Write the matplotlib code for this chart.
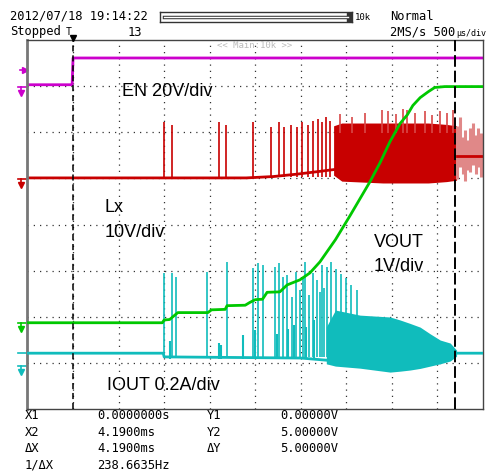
import numpy as np
import matplotlib.pyplot as plt

# time axis in ms, t=0 at cursor X1 (500us/div, 10 div)
t_min, t_max = -0.5, 4.5
x1_t, x2_t = 0.0, 4.19

# channel ground position (div from bottom) and scale (per div)
en_pos, en_scale = 6.98, 20.0
lx_pos, lx_scale = 4.99, 10.0
vout_pos, vout_scale = 1.87, 1.0
iout_pos, iout_scale = 0.93, 0.2

# EN (V)
en_t = [-0.5, -0.01, 0.0, 4.5]
en_v = [1.0, 1.0, 12.6, 12.6]

# Lx (V): baseline, isolated spikes, switching band, tail after X2
lx_base_t = [-0.5, 1.90, 2.20, 2.45, 2.70, 2.86]
lx_base_v = [0.2, 0.2, 0.5, 1.0, 1.6, 2.0]
lx_spike_t = [1.00, 1.09, 1.60, 1.68, 1.975, 2.17, 2.26, 2.32, 2.39, 2.46,
              2.51, 2.58, 2.63, 2.69, 2.73, 2.78, 2.82]
lx_spike_v = [12.3, 11.7, 12.3, 11.7, 12.4, 11.3, 12.3, 11.3, 11.7, 11.3,
              12.3, 11.7, 12.6, 13.0, 12.3, 13.5, 12.6]
lx_band_t = [2.86, 2.95, 3.40, 3.90, 4.10, 4.21]
lx_band_hi = [11.5, 12.1, 12.1, 12.1, 11.8, 11.5]
lx_band_lo = [0.8, -0.5, -0.9, -0.9, -0.6, -0.3]
lx_peak_t = [2.93, 3.06, 3.21, 3.39, 3.46, 3.55, 3.62, 3.67, 3.75, 3.86,
             3.94, 4.03, 4.11, 4.17]
lx_peak_v = [14.0, 13.5, 14.2, 15.0, 14.8, 14.0, 15.2, 15.0, 14.3, 14.6,
             13.8, 14.8, 14.2, 15.0]
lx_tail_t = [4.22, 4.25, 4.28, 4.30, 4.33, 4.36, 4.39, 4.42, 4.45, 4.48]
lx_tail_hi = [11.5, 13.5, 9.0, 10.5, 8.5, 11.0, 12.0, 9.5, 11.0, 10.0]
lx_tail_lo = [0.0, 2.5, 1.0, -0.5, 2.0, 1.5, 3.0, 1.0, 2.5, 0.5]

# VOUT (V)
vout_t = [-0.5, 0.98, 1.00, 1.06, 1.15, 1.48, 1.52, 1.67, 1.69, 1.89, 1.94,
          2.00, 2.08, 2.13, 2.27, 2.35, 2.49, 2.60, 2.71, 2.88, 3.04, 3.26,
          3.37, 3.48, 3.59, 3.67, 3.73, 3.81, 3.90, 3.97, 4.08, 4.50]
vout_v = [0.0, 0.0, 0.06, 0.07, 0.22, 0.22, 0.28, 0.29, 0.37, 0.38, 0.44,
          0.50, 0.51, 0.66, 0.67, 0.82, 0.93, 1.08, 1.32, 1.80, 2.32, 3.06,
          3.47, 3.93, 4.32, 4.51, 4.71, 4.88, 5.01, 5.10, 5.12, 5.12]

# IOUT (A)
iout_base_t = [-0.5, 0.99, 1.00, 2.50, 2.80, 4.21, 4.50]
iout_base_v = [0.056, 0.056, 0.040, 0.035, 0.025, 0.056, 0.056]
iout_spike_t = [0.998, 1.086, 1.130, 1.470, 1.690, 1.975, 2.030, 2.085, 2.217,
                2.261, 2.305, 2.349, 2.40, 2.448, 2.49, 2.525, 2.547, 2.59,
                2.634, 2.678, 2.71, 2.733, 2.76, 2.788, 2.832, 2.887, 2.942,
                2.997, 3.05, 3.12]
iout_spike_v = [0.403, 0.403, 0.386, 0.408, 0.451, 0.425, 0.447, 0.438, 0.430,
                0.447, 0.386, 0.395, 0.300, 0.408, 0.330, 0.386, 0.451, 0.310,
                0.403, 0.373, 0.320, 0.440, 0.340, 0.430, 0.450, 0.420, 0.400,
                0.380, 0.350, 0.330]
iout_bump_t = [1.064, 1.60, 1.62, 1.866, 1.997, 2.24, 2.36, 2.43, 2.56, 2.65]
iout_bump_v = [0.11, 0.10, 0.09, 0.134, 0.156, 0.14, 0.16, 0.18, 0.17, 0.20]
iout_band_t = [2.78, 2.88, 3.15, 3.48, 3.59, 3.70, 3.81, 3.92, 4.03, 4.14, 4.21]
iout_band_hi = [0.17, 0.243, 0.221, 0.213, 0.200, 0.185, 0.169, 0.140, 0.113, 0.100, 0.069]
iout_band_lo = [0.010, 0.000, -0.009, -0.026, -0.022, -0.017, -0.010, 0.000, 0.010, 0.022, 0.043]

magenta = '#cc00cc'
red = '#c80000'
green = '#00c800'
cyan = '#10bcbc'


def to_div(v, pos, scale):
    return pos + np.asarray(v) / scale


W, H = 489, 473
fig = plt.figure(figsize=(W / 100, H / 100), dpi=100)
ax = fig.add_axes([27.5 / W, 64 / H, 455.5 / W, 369 / H])
ax.set_xlim(t_min, t_max)
ax.set_ylim(0, 8)
ax.set_xticks([])
ax.set_yticks([])
for s in ax.spines.values():
    s.set_color('#444444')
    s.set_linewidth(1.0)
ax.spines['left'].set_color('#777777')
ax.spines['left'].set_linewidth(2.0)

# dotted graticule
for k in range(1, 10):
    ax.axvline(t_min + 0.5 * k, color='#333333', lw=0.9, ls=(0, (1, 4)), zorder=0)
for k in range(1, 8):
    ax.axhline(k, color='#333333', lw=0.9, ls=(0, (1, 4)), zorder=0)

# EN
ax.plot(en_t, to_div(en_v, en_pos, en_scale), color=magenta, lw=2, zorder=2)

# Lx
ax.plot(lx_base_t, to_div(lx_base_v, lx_pos, lx_scale), color=red, lw=2, zorder=2)
ax.vlines(lx_spike_t, lx_pos + 0.03, to_div(lx_spike_v, lx_pos, lx_scale),
          color=red, lw=1.2, zorder=2)
ax.fill_between(lx_band_t, to_div(lx_band_lo, lx_pos, lx_scale),
                to_div(lx_band_hi, lx_pos, lx_scale), color=red, lw=0, zorder=2)
ax.vlines(lx_peak_t, lx_pos + 1.0, to_div(lx_peak_v, lx_pos, lx_scale),
          color='#d84848', lw=1.2, zorder=2)
ax.vlines(lx_tail_t, to_div(lx_tail_lo, lx_pos, lx_scale),
          to_div(lx_tail_hi, lx_pos, lx_scale), color='#e08888', lw=2.2, zorder=2)
ax.plot([4.21, 4.5], to_div([5.0, 5.0], lx_pos, lx_scale), color=red, lw=2, zorder=2)

# IOUT
ax.plot(iout_base_t, to_div(iout_base_v, iout_pos, iout_scale), color=cyan, lw=2, zorder=3)
ax.vlines(iout_spike_t, iout_pos + 0.2, to_div(iout_spike_v, iout_pos, iout_scale),
          color=cyan, lw=1.2, zorder=3)
ax.vlines(iout_bump_t, iout_pos + 0.15, to_div(iout_bump_v, iout_pos, iout_scale),
          color=cyan, lw=1.5, zorder=3)
ax.fill_between(iout_band_t, to_div(iout_band_lo, iout_pos, iout_scale),
                to_div(iout_band_hi, iout_pos, iout_scale), color=cyan, lw=0, zorder=3)

# VOUT
ax.plot(vout_t, to_div(vout_v, vout_pos, vout_scale), color=green, lw=2, zorder=4)

# cursors
ax.axvline(x1_t, color='black', lw=1.1, ls=(0, (4, 2.5)), zorder=5)
ax.axvline(x2_t, color='black', lw=1.4, ls=(0, (6, 2)), zorder=5)
ax.plot([x1_t], [8.05], marker='v', color='black', ms=5, clip_on=False, zorder=6)

# channel markers left of the screen
mk_t0, mk_t1, mk_tc = -0.60, -0.515, -0.57
for pos, col in [(en_pos, magenta), (lx_pos, red), (vout_pos, green), (iout_pos, cyan)]:
    ax.plot([mk_t0, mk_t1], [pos, pos], color=col, lw=1.2, clip_on=False)
    ax.plot([mk_tc, mk_tc], [pos, pos - 0.08], color=col, lw=1.2, clip_on=False)
    ax.plot([mk_tc], [pos - 0.13], marker='v', color=col, ms=4.5, clip_on=False)
ax.plot([mk_t0 + 0.02, mk_t1], [7.34, 7.34], color=magenta, lw=1.2, clip_on=False)
ax.plot([mk_t1 - 0.01], [7.34], marker='>', color=magenta, ms=4, clip_on=False)
ax.plot([mk_t0, mk_t1], [to_div(0.056, iout_pos, iout_scale)] * 2, color=cyan, lw=1.2,
        clip_on=False)

# labels inside the screen
lab = dict(family='Liberation Sans', fontsize=13, color='black', va='center', ha='left')


def px(x, y):
    return x / W, 1 - y / H


fig.text(*px(122, 92), 'EN 20V/div', **lab)
fig.text(*px(105, 207), 'Lx', **lab)
fig.text(*px(105, 232), '10V/div', **lab)
fig.text(*px(374, 242), 'VOUT', **lab)
fig.text(*px(374, 266), '1V/div', **lab)
fig.text(*px(107, 385), 'IOUT 0.2A/div', **lab)
fig.text(*px(217, 45), '<< Main:10k >>', family='DejaVu Sans Mono', fontsize=6.5,
         color='#bbbbbb', va='center', ha='left')

# header
mono = dict(family='DejaVu Sans Mono', fontsize=8.7, color='black', va='center', ha='left')
fig.text(*px(10, 16), '2012/07/18 19:14:22', **mono)
fig.text(*px(10, 32), 'Stopped', **mono)
fig.text(*px(66, 32), 'T', fontsize=7, **{k: v for k, v in mono.items() if k != 'fontsize'})
fig.text(*px(128, 32), '13', **mono)
fig.text(*px(390, 16), 'Normal', **mono)
fig.text(*px(390, 32), '2MS/s 500', **mono)
fig.text(*px(456, 33), 'μs/div', family='DejaVu Sans Mono', fontsize=6, color='black',
         va='center', ha='left')
bar = fig.add_axes([160 / W, 1 - 22 / H, 192 / W, 10 / H])
bar.set_xticks([])
bar.set_yticks([])
for s in bar.spines.values():
    s.set_color('#333333')
    s.set_linewidth(1)
bar.set_xlim(0, 1)
bar.set_ylim(0, 1)
bar.plot([0.02, 0.98], [0.5, 0.5], color='#333333', lw=2.5)
bar.plot([0.02, 0.98], [0.5, 0.5], color='white', lw=1)
bar.axvspan(0.975, 1.0, color='#333333')
fig.text(*px(355, 17), '10k', family='DejaVu Sans Mono', fontsize=6.5, color='black',
         va='center', ha='left')

# cursor readout
rows = [('X1', '0.0000000s', 'Y1', '0.00000V'),
        ('X2', '4.1900ms', 'Y2', '5.00000V'),
        ('ΔX', '4.1900ms', 'ΔY', '5.00000V'),
        ('1/ΔX', '238.6635Hz', '', '')]
row_y = [415, 432, 448, 465]
for (a, b, c, d), y in zip(rows, row_y):
    fig.text(*px(25, y), a, **mono)
    fig.text(*px(97, y), b, **mono)
    fig.text(*px(207, y), c, **mono)
    fig.text(*px(280, y), d, **mono)

fig.savefig('out.png', dpi=100)
